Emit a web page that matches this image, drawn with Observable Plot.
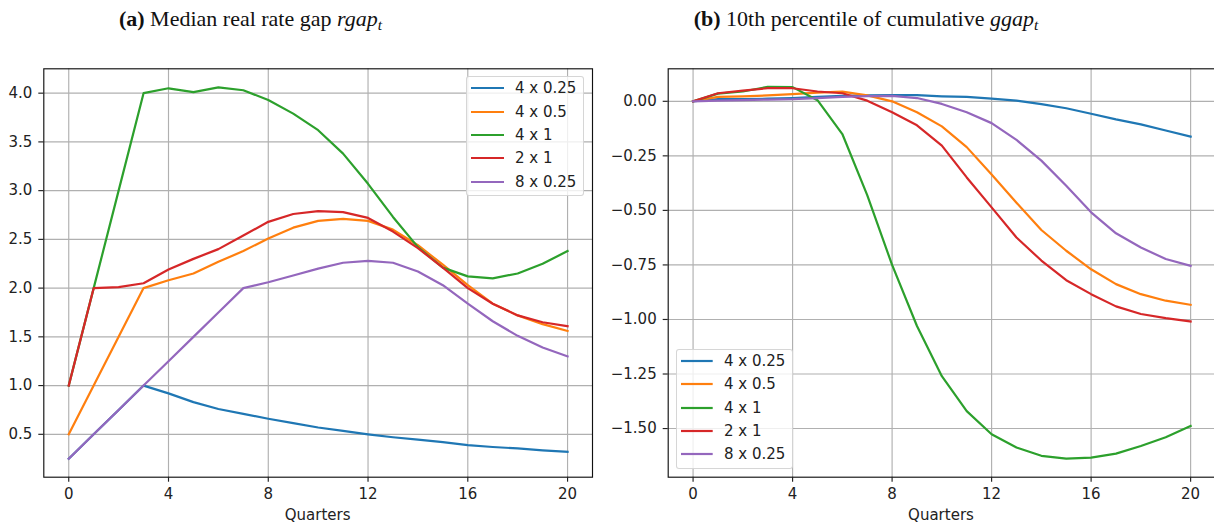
<!DOCTYPE html>
<html><head><meta charset="utf-8">
<script src="https://cdn.jsdelivr.net/npm/d3@7"></script>
<script src="https://cdn.jsdelivr.net/npm/@observablehq/plot@0.6"></script>
<style>
html,body{margin:0;padding:0;background:#fff;overflow:hidden;width:1214px;height:525px;}
#root{position:relative;width:1214px;height:525px;overflow:hidden;}
.panel{position:absolute;top:0;}
.title{position:absolute;top:7.6px;width:600px;text-align:center;font-family:"Liberation Serif",serif;font-size:22px;color:#111;line-height:1;white-space:nowrap;}
.title sub{font-size:0.7em;vertical-align:-0.25em;line-height:0;}
.xlabel{position:absolute;top:508px;width:300px;text-align:center;font-family:"DejaVu Sans",sans-serif;font-size:15px;color:#222;line-height:1;}
.legend{position:absolute;border:1px solid rgba(204,204,204,0.8);border-radius:3px;background:rgba(255,255,255,0.8);box-sizing:border-box;}
.entry{position:absolute;font-family:"DejaVu Sans",sans-serif;font-size:15px;color:#222;white-space:nowrap;line-height:1;}
.swatch{position:absolute;}
</style></head><body><div id="root"></div>
<script>
// ---- data ----
const quarters = [0,1,2,3,4,5,6,7,8,9,10,11,12,13,14,15,16,17,18,19,20];
const seriesNames = ["4 x 0.25", "4 x 0.5", "4 x 1", "2 x 1", "8 x 0.25"];
const seriesColors = ["#1f77b4", "#ff7f0e", "#2ca02c", "#d62728", "#9467bd"];
const xTicks = [0, 4, 8, 12, 16, 20];

// panel (a): median real rate gap
const rgap_4x025 = [0.25,0.50,0.75,1.00,0.92,0.83,0.76,0.71,0.66,0.615,0.57,0.535,0.50,0.47,0.445,0.42,0.39,0.37,0.355,0.335,0.32];
const rgap_4x05  = [0.50,1.00,1.50,2.00,2.08,2.15,2.27,2.38,2.51,2.62,2.69,2.71,2.69,2.60,2.44,2.24,2.03,1.84,1.72,1.63,1.56];
const rgap_4x1   = [1.00,2.00,3.00,4.00,4.05,4.01,4.06,4.03,3.93,3.79,3.62,3.38,3.07,2.73,2.42,2.21,2.12,2.10,2.15,2.25,2.38];
const rgap_2x1   = [1.00,2.00,2.01,2.05,2.19,2.30,2.40,2.54,2.68,2.76,2.79,2.78,2.72,2.58,2.41,2.21,2.00,1.84,1.72,1.65,1.61];
const rgap_8x025 = [0.25,0.50,0.75,1.00,1.25,1.50,1.75,2.00,2.06,2.13,2.20,2.26,2.28,2.26,2.17,2.03,1.84,1.66,1.51,1.39,1.30];
const rgapYTicks = [0.5, 1.0, 1.5, 2.0, 2.5, 3.0, 3.5, 4.0];

// panel (b): 10th percentile of cumulative ggap
const ggap_4x025 = [0,0.010,0.010,0.012,0.015,0.020,0.025,0.027,0.028,0.028,0.023,0.020,0.012,0.003,-0.013,-0.032,-0.057,-0.083,-0.106,-0.134,-0.162];
const ggap_4x05  = [0,0.020,0.023,0.027,0.033,0.040,0.044,0.027,0.000,-0.050,-0.115,-0.210,-0.335,-0.465,-0.590,-0.685,-0.770,-0.838,-0.884,-0.914,-0.933];
const ggap_4x1   = [0,0.035,0.045,0.066,0.065,0.005,-0.150,-0.430,-0.750,-1.030,-1.260,-1.420,-1.526,-1.587,-1.625,-1.638,-1.633,-1.615,-1.580,-1.540,-1.488];
const ggap_2x1   = [0,0.037,0.049,0.060,0.060,0.045,0.037,0.003,-0.050,-0.110,-0.203,-0.349,-0.486,-0.624,-0.730,-0.820,-0.884,-0.940,-0.975,-0.994,-1.009];
const ggap_8x025 = [0,0.003,0.005,0.008,0.010,0.015,0.020,0.024,0.025,0.015,-0.012,-0.050,-0.100,-0.177,-0.272,-0.387,-0.509,-0.605,-0.670,-0.723,-0.754];
const ggapYTicks = [0, -0.25, -0.5, -0.75, -1.0, -1.25, -1.5];

// ---- build ----
const root = document.getElementById("root");
const toRows = (vals) => quarters.map((q, i) => ({q, v: vals[i]}));

function panel({left, width, marginLeft, marginRight, yDomain, yTicks, yFormat, series}) {
  const marks = [
    Plot.gridX(xTicks, {stroke: "#b0b0b0", strokeOpacity: 1, strokeWidth: 1.15}),
    Plot.gridY(yTicks, {stroke: "#b0b0b0", strokeOpacity: 1, strokeWidth: 1.15}),
    ...series.map((vals, i) => Plot.line(toRows(vals), {x: "q", y: "v", stroke: seriesColors[i], strokeWidth: 2.2, strokeLinejoin: "round", strokeLinecap: "square"})),
    Plot.frame({stroke: "#111", strokeWidth: 1.15}),
    Plot.axisX(xTicks, {anchor: "bottom", tickSize: 5, tickPadding: 6.3, label: null, strokeWidth: 1.15}),
    Plot.axisY(yTicks, {anchor: "left", tickSize: 5, tickPadding: 6.5, tickFormat: yFormat, label: null, strokeWidth: 1.15})
  ];
  const svg = Plot.plot({
    width, height: 525,
    marginLeft, marginRight, marginTop: 68.3, marginBottom: 48.3,
    x: {domain: [-1, 21]},
    y: {domain: yDomain},
    style: {fontFamily: "DejaVu Sans, sans-serif", fontSize: "15px", color: "#222", background: "transparent", overflow: "visible"},
    marks
  });
  svg.classList.add("panel");
  svg.style.left = left + "px";
  svg.style.position = "absolute";
  svg.style.top = "0px";
  root.appendChild(svg);
}

panel({left: 0, width: 607, marginLeft: 43.3, marginRight: 15, yDomain: [0.06, 4.25], yTicks: rgapYTicks, yFormat: d3.format(".1f"),
  series: [rgap_4x025, rgap_4x05, rgap_4x1, rgap_2x1, rgap_8x025]});
panel({left: 607, width: 610, marginLeft: 60.7, marginRight: 2, yDomain: [-1.723, 0.149], yTicks: ggapYTicks, yFormat: d3.format(".2f"),
  series: [ggap_4x025, ggap_4x05, ggap_4x1, ggap_2x1, ggap_8x025]});

// titles
function addTitle(center, html) {
  const d = document.createElement("div");
  d.className = "title";
  d.style.left = (center - 300) + "px";
  d.innerHTML = html;
  root.appendChild(d);
}
addTitle(250.5, '<b>(a)</b> Median real rate gap <i>rgap</i><sub><i>t</i></sub>');
addTitle(866, '<b>(b)</b> 10th percentile of cumulative <i>ggap</i><sub><i>t</i></sub>');

// x labels
function addXLabel(center) {
  const d = document.createElement("div");
  d.className = "xlabel";
  d.style.left = (center - 150) + "px";
  d.textContent = "Quarters";
  root.appendChild(d);
}
addXLabel(317.7);
addXLabel(941);

// legends
function addLegend(bx, by, bw, bh, row0, rowStep, lx0, lx1, tx) {
  const box = document.createElement("div");
  box.className = "legend";
  Object.assign(box.style, {left: bx + "px", top: by + "px", width: bw + "px", height: bh + "px"});
  root.appendChild(box);
  seriesNames.forEach((name, i) => {
    const cy = row0 + i * rowStep;
    const sw = document.createElementNS("http://www.w3.org/2000/svg", "svg");
    sw.setAttribute("class", "swatch");
    sw.setAttribute("width", lx1 - lx0 + 4);
    sw.setAttribute("height", 6);
    sw.style.left = (lx0 - 2) + "px";
    sw.style.top = (cy - 3) + "px";
    const ln = document.createElementNS("http://www.w3.org/2000/svg", "line");
    ln.setAttribute("x1", 2); ln.setAttribute("x2", lx1 - lx0 + 2);
    ln.setAttribute("y1", 3); ln.setAttribute("y2", 3);
    ln.setAttribute("stroke", seriesColors[i]); ln.setAttribute("stroke-width", 2.2);
    sw.appendChild(ln);
    root.appendChild(sw);
    const t = document.createElement("div");
    t.className = "entry";
    t.style.left = tx + "px";
    t.style.top = (cy - 7) + "px";
    t.textContent = name;
    root.appendChild(t);
  });
}
addLegend(465.7, 76, 118, 119.7, 88.3, 23.35, 471, 504, 515);
addLegend(676, 349, 116.7, 120, 361, 23.25, 681, 712.7, 724);
</script></body></html>
